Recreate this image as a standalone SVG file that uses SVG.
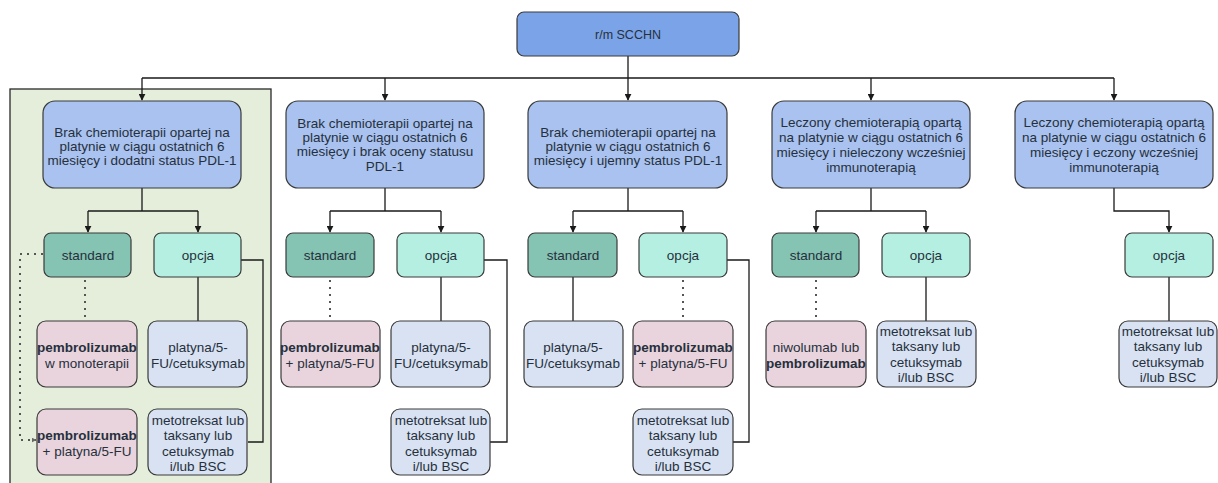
<svg xmlns="http://www.w3.org/2000/svg" width="1218" height="483" viewBox="0 0 1218 483">
<style>
text{font-family:"Liberation Sans",Arial,sans-serif;font-size:13.5px;fill:#26303c;text-anchor:middle}
.b{font-weight:bold}
.box{stroke:#3a3a3a;stroke-width:1.2}
.top{fill:#7ba4e8}
.node{fill:#a9c2ef}
.std{fill:#85c3b3}
.opc{fill:#b4efe2}
.pem{fill:#e9d4dd}
.pla{fill:#d8e2f2}
.ln{fill:none;stroke:#1a1a1a;stroke-width:1.3}
.dot{fill:none;stroke:#555;stroke-width:2;stroke-dasharray:2 5}
.tt{font-size:12.5px}
</style>
<defs>
<marker id="ah" viewBox="0 0 10 10" refX="9" refY="5" markerWidth="7" markerHeight="7" orient="auto" markerUnits="userSpaceOnUse">
<path d="M0,0 L10,5 L0,10 z" fill="#1a1a1a"/>
</marker>
<marker id="ahs" viewBox="0 0 10 10" refX="9" refY="5" markerWidth="5" markerHeight="5" orient="auto" markerUnits="userSpaceOnUse">
<path d="M0,0 L10,5 L0,10 z" fill="#666"/>
</marker>
</defs>
<rect id="panel" x="10" y="89" width="261" height="400" fill="#e4eedb" stroke="#2a2a2a" stroke-width="1.3"/>
<g id="connectors">
<path class="ln" d="M628,56 V78 M142,78 H1114"/>
<path class="ln" marker-end="url(#ah)" d="M142,78 V100"/>
<path class="ln" marker-end="url(#ah)" d="M385,78 V100"/>
<path class="ln" marker-end="url(#ah)" d="M628,78 V100"/>
<path class="ln" marker-end="url(#ah)" d="M871,78 V100"/>
<path class="ln" marker-end="url(#ah)" d="M1114,78 V100"/>
<path class="ln" d="M142,188 V211 M88,211 H198"/>
<path class="ln" marker-end="url(#ah)" d="M88,211 V232"/>
<path class="ln" marker-end="url(#ah)" d="M198,211 V232"/>
<path class="ln" d="M385,188 V211 M330,211 H441"/>
<path class="ln" marker-end="url(#ah)" d="M330,211 V232"/>
<path class="ln" marker-end="url(#ah)" d="M441,211 V232"/>
<path class="ln" d="M628,188 V211 M573,211 H683"/>
<path class="ln" marker-end="url(#ah)" d="M573,211 V232"/>
<path class="ln" marker-end="url(#ah)" d="M683,211 V232"/>
<path class="ln" d="M871,188 V211 M816,211 H926"/>
<path class="ln" marker-end="url(#ah)" d="M816,211 V232"/>
<path class="ln" marker-end="url(#ah)" d="M926,211 V232"/>
<path class="ln" marker-end="url(#ah)" d="M1114,188 V211 H1169 V232"/>
<path class="ln" d="M198,277 V321 M441,277 V321 M573,277 V321 M926,277 V321 M1169,277 V321"/>
<path class="ln" d="M241,260 H263 V442 H248"/>
<path class="ln" d="M484,260 H507 V442 H490"/>
<path class="ln" d="M727,260 H749 V442 H733"/>
<path class="dot" d="M85,280 V321 M330,280 V321 M683,280 V321 M816,280 V321"/>
<path class="dot" marker-end="url(#ahs)" d="M43,254 H20 V440 H36"/>
</g>
<g id="root"><rect class="box top" x="517" y="12" width="222" height="44" rx="7"/><text class="tt" x="628" y="39">r/m SCCHN</text></g>
<g id="n1"><rect class="box node" x="43" y="101" width="198" height="87" rx="12"/>
<text x="142" y="137">Brak chemioterapii opartej na</text><text x="142" y="151">platynie w ciągu ostatnich 6</text><text x="142" y="165">miesięcy i dodatni status PDL-1</text></g>
<g id="n2"><rect class="box node" x="286" y="101" width="198" height="87" rx="12"/>
<text x="385" y="128">Brak chemioterapii opartej na</text><text x="385" y="142">platynie w ciągu ostatnich 6</text><text x="385" y="156">miesięcy i brak oceny statusu</text><text x="385" y="171">PDL-1</text></g>
<g id="n3"><rect class="box node" x="528" y="101" width="199" height="87" rx="12"/>
<text x="628" y="137">Brak chemioterapii opartej na</text><text x="628" y="151">platynie w ciągu ostatnich 6</text><text x="628" y="165">miesięcy i ujemny status PDL-1</text></g>
<g id="n4"><rect class="box node" x="772" y="101" width="198" height="87" rx="12"/>
<text x="871" y="127">Leczony chemioterapią opartą</text><text x="871" y="142">na platynie w ciągu ostatnich 6</text><text x="871" y="157">miesięcy i nieleczony wcześniej</text><text x="871" y="172">immunoterapią</text></g>
<g id="n5"><rect class="box node" x="1015" y="101" width="198" height="87" rx="12"/>
<text x="1114" y="127">Leczony chemioterapią opartą</text><text x="1114" y="142">na platynie w ciągu ostatnich 6</text><text x="1114" y="157">miesięcy i eczony wcześniej</text><text x="1114" y="172">immunoterapią</text></g>
<g id="s1"><rect class="box std" x="44" y="233" width="87" height="44" rx="7"/><text x="88" y="260">standard</text></g>
<g id="o1"><rect class="box opc" x="154" y="233" width="87" height="44" rx="7"/><text x="198" y="260">opcja</text></g>
<g id="s2"><rect class="box std" x="286" y="233" width="88" height="44" rx="7"/><text x="330" y="260">standard</text></g>
<g id="o2"><rect class="box opc" x="397" y="233" width="87" height="44" rx="7"/><text x="441" y="260">opcja</text></g>
<g id="s3"><rect class="box std" x="528" y="233" width="89" height="44" rx="7"/><text x="573" y="260">standard</text></g>
<g id="o3"><rect class="box opc" x="639" y="233" width="88" height="44" rx="7"/><text x="683" y="260">opcja</text></g>
<g id="s4"><rect class="box std" x="772" y="233" width="87" height="44" rx="7"/><text x="816" y="260">standard</text></g>
<g id="o4"><rect class="box opc" x="882" y="233" width="88" height="44" rx="7"/><text x="926" y="260">opcja</text></g>
<g id="o5"><rect class="box opc" x="1125" y="233" width="88" height="44" rx="7"/><text x="1169" y="260">opcja</text></g>
<g id="a1"><rect class="box pem" x="37" y="321" width="100" height="66" rx="9"/><text class="b" x="87" y="352">pembrolizumab</text><text x="87" y="368">w monoterapii</text></g>
<g id="b1"><rect class="box pla" x="148" y="321" width="99" height="66" rx="9"/><text x="198" y="352">platyna/5-</text><text x="198" y="368">FU/cetuksymab</text></g>
<g id="c1"><rect class="box pem" x="37" y="409" width="100" height="66" rx="9"/><text class="b" x="87" y="440">pembrolizumab</text><text x="87" y="456">+ platyna/5-FU</text></g>
<g id="d1"><rect class="box pla" x="148" y="409" width="99" height="66" rx="9"/><text x="198" y="425">metotreksat lub</text><text x="198" y="440">taksany lub</text><text x="198" y="456">cetuksymab</text><text x="198" y="471">i/lub BSC</text></g>
<g id="a2"><rect class="box pem" x="281" y="321" width="99" height="66" rx="9"/><text class="b" x="330" y="352">pembrolizumab</text><text x="330" y="368">+ platyna/5-FU</text></g>
<g id="b2"><rect class="box pla" x="391" y="321" width="99" height="66" rx="9"/><text x="441" y="352">platyna/5-</text><text x="441" y="368">FU/cetuksymab</text></g>
<g id="d2"><rect class="box pla" x="391" y="409" width="99" height="66" rx="9"/><text x="441" y="425">metotreksat lub</text><text x="441" y="440">taksany lub</text><text x="441" y="456">cetuksymab</text><text x="441" y="471">i/lub BSC</text></g>
<g id="b3"><rect class="box pla" x="524" y="321" width="99" height="66" rx="9"/><text x="573" y="352">platyna/5-</text><text x="573" y="368">FU/cetuksymab</text></g>
<g id="a3"><rect class="box pem" x="633" y="321" width="100" height="66" rx="9"/><text class="b" x="683" y="352">pembrolizumab</text><text x="683" y="368">+ platyna/5-FU</text></g>
<g id="d3"><rect class="box pla" x="633" y="409" width="100" height="66" rx="9"/><text x="683" y="425">metotreksat lub</text><text x="683" y="440">taksany lub</text><text x="683" y="456">cetuksymab</text><text x="683" y="471">i/lub BSC</text></g>
<g id="a4"><rect class="box pem" x="766" y="321" width="100" height="66" rx="9"/><text x="816" y="352">niwolumab lub</text><text class="b" x="816" y="368">pembrolizumab</text></g>
<g id="d4"><rect class="box pla" x="877" y="321" width="99" height="66" rx="9"/><text x="926" y="336">metotreksat lub</text><text x="926" y="351">taksany lub</text><text x="926" y="367">cetuksymab</text><text x="926" y="382">i/lub BSC</text></g>
<g id="d5"><rect class="box pla" x="1119" y="321" width="98" height="66" rx="9"/><text x="1168" y="336">metotreksat lub</text><text x="1168" y="351">taksany lub</text><text x="1168" y="367">cetuksymab</text><text x="1168" y="382">i/lub BSC</text></g>
</svg>
